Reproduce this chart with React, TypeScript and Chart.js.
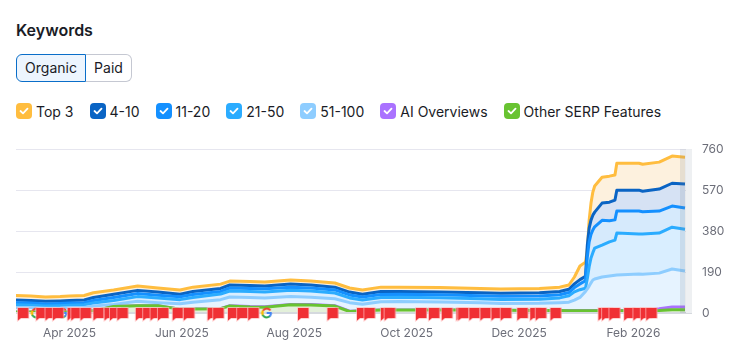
import React, { useEffect, useRef } from "react";
import { Chart, registerables } from "chart.js";

Chart.register(...registerables);

const FONT = "Inter, 'Noto Sans', sans-serif";

const days = [0,8,16,24,29,37,42,53,66,77,89,96,111,116,127,135,149,160,173,181,188,198,208,230,252,263,284,295,300,303,306,309,310,311,312,313,314,318,322,325,326,338,340,349,356,363];
const top3 = [81,79,74,76,79,81,94,107,125,116,107,120,134,148,146,144,153,148,139,116,107,120,120,118,114,111,114,120,130,167,218,236,292,431,510,561,589,630,635,640,695,695,690,700,728,723];
const pos4to10 = [60,58,54,56,58,60,72,87,105,97,87,100,114,130,128,125,134,130,120,97,87,100,100,98,94,92,94,100,110,135,155,170,315,394,431,454,468,510,514,524,570,570,565,575,602,598];
const pos11to20 = [48,46,42,44,46,48,58,72,90,82,75,86,100,116,114,112,120,116,107,84,74,86,87,85,80,78,79,85,95,118,135,150,260,330,365,385,400,430,428,432,473,473,470,473,496,487];
const pos21to50 = [38,36,32,34,36,38,46,58,76,70,62,72,88,102,100,98,106,102,93,70,60,72,73,71,66,63,64,70,80,98,108,115,160,215,255,280,301,315,330,338,371,366,366,371,398,389];
const pos51to100 = [26,25,22,23,25,26,32,40,54,48,43,50,62,74,72,70,76,73,66,48,41,52,53,51,47,44,45,48,50,60,72,100,112,125,140,153,158,167,172,175,176,181,180,185,204,195];
const aiOverviews = [5,5,5,5,5,8,10,30,34,34,18,18,20,34,30,29,40,39,34,8,10,14,14,14,14,13,12,12,12,12,12,12,12,12,12,12,12,12,12,12,12,12,12,20,28,28];
const otherSerp = [5,5,5,5,5,8,10,30,34,34,18,18,20,33,28,27,38,37,32,7,10,14,14,14,14,13,12,12,11,11,11,11,11,11,11,11,11,11,11,11,11,11,11,12,15,15];

const flagDays = [1,11,16,20,28,30,35,42,48,51,55,65,69,73,77,85,91,104,107,115,120,126,153,169,185,189,198,200,217,224,231,239,240,246,252,258,263,272,279,282,290,316,318,322,330,335,339,342];
const googleDays = [11,25,136];

const tickDays = [29,90,151,212,273,335];
const tickLabels = ["Apr 2025","Jun 2025","Aug 2025","Oct 2025","Dec 2025","Feb 2026"];

const legendNames = ["Top 3","4-10","11-20","21-50","51-100","AI Overviews","Other SERP Features"];
const legendColors = ["#ffbd3f","#0a64c4","#1490ff","#2bacff","#8ecdff","#aa72ff","#68c331"];

const toPoints = (values: number[]) => values.map((y, i) => ({ x: days[i], y }));

function makeFlag() {
  const c = document.createElement("canvas");
  c.width = 24; c.height = 26;
  const g = c.getContext("2d")!;
  g.beginPath();
  g.moveTo(12, 8); g.lineTo(22.5, 8); g.lineTo(22.5, 18); g.lineTo(15, 18); g.lineTo(12, 20.5); g.closePath();
  g.strokeStyle = "rgba(255,190,190,0.9)"; g.lineWidth = 1.5; g.stroke();
  g.fillStyle = "#f03034"; g.fill();
  return c;
}

function makeGoogle() {
  const c = document.createElement("canvas");
  c.width = 16; c.height = 16;
  const g = c.getContext("2d")!;
  const arc = (a: number, b: number, col: string) => {
    g.beginPath(); g.arc(8, 8, 4.4, a, b); g.strokeStyle = col; g.lineWidth = 2; g.stroke();
  };
  arc(-2.6, -0.6, "#ea4335");
  arc(-3.8, -2.6, "#fbbc05");
  arc(0.6, 2.9, "#34a853");
  arc(2.7, 3.6, "#fbbc05");
  arc(0, 0.9, "#4285f4");
  g.fillStyle = "#4285f4"; g.fillRect(8, 7, 5, 2);
  return c;
}

const edgeBand = {
  id: "edgeBand",
  beforeDatasetDraw(chart: any, args: any) {
    if (args.index !== 1) return;
    const { ctx, chartArea: a } = chart;
    ctx.save();
    ctx.fillStyle = "#d5d9de";
    ctx.fillRect(a.left, a.bottom - 1, a.right - a.left, 2);
    ctx.restore();
  },
  afterDatasetsDraw(chart: any) {
    const { ctx, chartArea: a } = chart;
    ctx.save();
    ctx.fillStyle = "rgba(110,125,135,0.16)";
    ctx.fillRect(a.right - 12, a.top, 6, a.bottom - a.top);
    ctx.fillStyle = "#eef0f2";
    ctx.fillRect(a.right - 6, a.top, 6, a.bottom - a.top);
    ctx.restore();
  },
};

function Check({ color }: { color: string }) {
  return (
    <span style={{ width: 16, height: 16, borderRadius: 4, background: color, display: "inline-flex", alignItems: "center", justifyContent: "center", flex: "none" }}>
      <svg width="10" height="8" viewBox="0 0 10 8">
        <path d="M1.5 4 L4 6.3 L8.5 1.7" fill="none" stroke="#fff" strokeWidth="1.8" strokeLinecap="round" strokeLinejoin="round" />
      </svg>
    </span>
  );
}

export default function App() {
  const ref = useRef<HTMLCanvasElement>(null);
  useEffect(() => {
    const line = (label: string, data: number[], color: string, fillColor: string, order: number, fill: any) => ({
      label, data: toPoints(data), borderColor: color, backgroundColor: fillColor,
      borderWidth: 3, pointRadius: 0, tension: 0, fill, order, borderJoinStyle: "round", clip: false,
    });
    const chart = new Chart(ref.current!, {
      type: "line",
      data: {
        datasets: [
          { label: "flags", data: flagDays.map((x) => ({ x, y: 0 })), showLine: false, pointStyle: makeFlag(), pointRadius: 5, order: 0, clip: false },
          { label: "google", data: googleDays.map((x) => ({ x, y: 0 })), showLine: false, pointStyle: makeGoogle(), pointRadius: 5, order: 1, clip: false },
          line("Other SERP Features", otherSerp, legendColors[6], "#e3f0da", 2, "origin"),
          line("AI Overviews", aiOverviews, legendColors[5], "rgba(170,114,255,0.1)", 3, "origin"),
          line("51-100", pos51to100, legendColors[4], "#e6f3ff", 4, "origin"),
          line("21-50", pos21to50, legendColors[3], "#d9eeff", 5, "-1"),
          line("11-20", pos11to20, legendColors[2], "#d6eafc", 6, "-1"),
          line("4-10", pos4to10, legendColors[1], "#d6e2f4", 7, "-1"),
          line("Top 3", top3, legendColors[0], "#fdf1de", 8, "-1"),
        ] as any,
      },
      options: {
        animation: false,
        responsive: false,
        layout: { padding: { left: 16, top: 1, right: 0, bottom: 0 } },
        plugins: { legend: { display: false }, tooltip: { enabled: false } },
        scales: {
          x: {
            type: "linear",
            min: 0,
            max: 366.8,
            grid: { display: false },
            border: { display: false },
            afterBuildTicks: (s: any) => { s.ticks = tickDays.map((value) => ({ value })); },
            afterFit: (s: any) => { s.height = 40; },
            ticks: {
              autoSkip: false, maxRotation: 0, padding: 5, color: "#6c6e79",
              font: { family: FONT, size: 12 },
              callback: (v: any) => tickLabels[tickDays.indexOf(v)],
            },
          },
          y: {
            position: "right",
            min: 0,
            max: 760,
            grid: { color: "#e6e6ef", drawTicks: false },
            border: { display: false },
            afterFit: (s: any) => { s.width = 57; },
            ticks: { stepSize: 190, padding: 10, color: "#6c6e79", font: { family: FONT, size: 12 } },
          },
        },
      } as any,
      plugins: [edgeBand],
    });
    return () => chart.destroy();
  }, []);

  return (
    <div style={{ position: "absolute", left: 0, top: 0, width: 749, height: 353, background: "#fff", fontFamily: FONT, color: "#1a1c26", overflow: "hidden" }}>
      <div style={{ position: "absolute", left: 16, top: 20, fontSize: 16, lineHeight: "20px", fontWeight: 600 }}>Keywords</div>
      <div style={{ position: "absolute", left: 16, top: 54, display: "flex", height: 28, fontSize: 14, lineHeight: "26px", boxSizing: "border-box" }}>
        <div style={{ width: 70, boxSizing: "border-box", textAlign: "center", border: "1px solid #0a6ec9", background: "#edf5fe", borderRadius: "6px 0 0 6px" }}>Organic</div>
        <div style={{ width: 46, boxSizing: "border-box", textAlign: "center", border: "1px solid #c5c8d2", borderLeft: "none", borderRadius: "0 6px 6px 0" }}>Paid</div>
      </div>
      <div style={{ position: "absolute", left: 16, top: 103, display: "flex", gap: 16, fontSize: 14, lineHeight: "16px" }}>
        {legendNames.map((n, i) => (
          <div key={n} style={{ display: "flex", alignItems: "center", gap: 4, whiteSpace: "nowrap" }}>
            <Check color={legendColors[i]} />
            <span style={{ position: "relative", top: 1 }}>{n}</span>
          </div>
        ))}
      </div>
      <canvas ref={ref} width={749} height={221} style={{ position: "absolute", left: 0, top: 132, width: 749, height: 221 }} />
    </div>
  );
}
